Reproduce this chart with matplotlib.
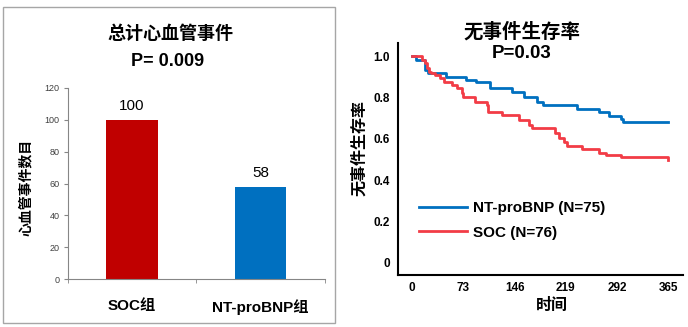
import matplotlib
matplotlib.use("Agg")
import matplotlib.pyplot as plt
from matplotlib.patches import Rectangle

plt.rcParams['font.family'] = ['Liberation Sans', 'Noto Sans CJK SC', 'DejaVu Sans']

# left panel: total cardiovascular events
groups = ['SOC组', 'NT-proBNP组']
events = [100, 58]
bar_colors = ['#C00000', '#0070C0']

# right panel: event-free survival (Kaplan-Meier steps)
days_ticks = [0, 73, 146, 219, 292, 365]
blue_days = [0, 6, 16, 18.5, 23, 49, 77, 91, 111, 142, 159, 178, 186, 235, 266, 280, 297.5, 301, 365]
blue_surv = [1.0, 0.981, 0.981, 0.932, 0.916, 0.90, 0.884, 0.873, 0.844, 0.828, 0.804, 0.78, 0.763,
             0.744, 0.731, 0.71, 0.694, 0.68, 0.68]
red_days = [0, 14, 19, 21, 24, 27, 33, 40, 45, 57, 64, 71, 73, 90, 106.5, 108, 128, 152, 166, 171,
            204, 209, 216, 220.5, 242, 267, 277, 297.5, 364, 365]
red_surv = [1.0, 0.981, 0.965, 0.94, 0.924, 0.916, 0.908, 0.892, 0.876, 0.86, 0.844, 0.82, 0.803,
            0.78, 0.763, 0.731, 0.715, 0.69, 0.667, 0.65, 0.626, 0.602, 0.586, 0.565, 0.549, 0.533,
            0.522, 0.51, 0.51, 0.498]

fig = plt.figure(figsize=(6.88, 3.27), dpi=100)

# gray frame round the left panel
fig.patches.append(Rectangle((3 / 688, 1 - 323 / 327), 332 / 688, 316 / 327,
                             transform=fig.transFigure, fill=False, edgecolor='#A6A6A6', lw=1))

ax1 = fig.add_axes([67.7 / 688, 1 - 279.3 / 327, 257.3 / 688, 191.6 / 327])
bars = ax1.bar(range(len(groups)), events, width=0.4, color=bar_colors)
ax1.bar_label(bars, padding=5, fontsize=11)
ax1.set_xlim(-0.5, 1.5)
ax1.set_ylim(0, 120)
ax1.set_yticks(range(0, 121, 20))
ax1.set_xticks(range(len(groups)))
ax1.set_xticklabels(groups, fontsize=11, fontweight='bold')
ax1.set_xticks([-0.5, 0.5, 1.5], minor=True)
ax1.tick_params(axis='x', which='major', length=0, pad=14)
ax1.tick_params(axis='x', which='minor', length=3, color='#868686')
ax1.tick_params(axis='y', length=3, color='#868686', labelsize=6.5, labelcolor='#404040', pad=3)
for s in ['top', 'right']:
    ax1.spines[s].set_visible(False)
for s in ['left', 'bottom']:
    ax1.spines[s].set_color('#868686')
ax1.set_ylabel('心血管事件数目', fontsize=10, fontweight='bold')
ax1.yaxis.set_label_coords(-0.135, 0.48)

fig.text(170 / 688, 1 - 34 / 327, '总计心血管事件', ha='center', va='center', fontsize=13, fontweight='bold')
fig.text(168 / 688, 1 - 62 / 327, 'P= 0.009', ha='center', va='center', fontsize=13, fontweight='bold')

# survival curves
ax2 = fig.add_axes([398 / 688, 1 - 275 / 327, 285 / 688, 232 / 327])
ax2.step(blue_days, blue_surv, where='post', color='#0070C0', lw=2, label='NT-proBNP (N=75)')
ax2.step(red_days, red_surv, where='post', color='#F23C46', lw=2, label='SOC (N=76)')
ax2.set_xlim(-20, 386)
ax2.set_ylim(-0.058, 1.063)
ax2.set_xticks(days_ticks)
ax2.set_yticks([0, 0.2, 0.4, 0.6, 0.8, 1.0])
ax2.set_yticklabels(['0', '0.2', '0.4', '0.6', '0.8', '1.0'])
for lab in ax2.get_xticklabels() + ax2.get_yticklabels():
    lab.set_fontweight('bold')
ax2.tick_params(axis='both', length=0, labelsize=8.5)
ax2.tick_params(axis='x', pad=5)
ax2.tick_params(axis='y', pad=6)
for s in ['top', 'right']:
    ax2.spines[s].set_visible(False)
for s in ['left', 'bottom']:
    ax2.spines[s].set_linewidth(1.5)
ax2.set_ylabel('无事件生存率', fontsize=11.5, fontweight='bold')
ax2.yaxis.set_label_coords(-0.109, 0.547)
ax2.set_xlabel('时间', fontsize=11.5, fontweight='bold')
ax2.xaxis.set_label_coords(0.54, -0.097)
leg = ax2.legend(loc='upper left', bbox_to_anchor=(0.074, 0.318), frameon=False,
                 prop={'size': 11, 'weight': 'bold'}, handlelength=3.15, handletextpad=0.4,
                 labelspacing=0.68, borderpad=0, borderaxespad=0)

fig.text(521.7 / 688, 1 - 32 / 327, '无事件生存率', ha='center', va='center', fontsize=14, fontweight='bold')
fig.text(521.7 / 688, 1 - 53 / 327, 'P=0.03', ha='center', va='center', fontsize=13.5, fontweight='bold')

fig.savefig('out.png', dpi=100)
